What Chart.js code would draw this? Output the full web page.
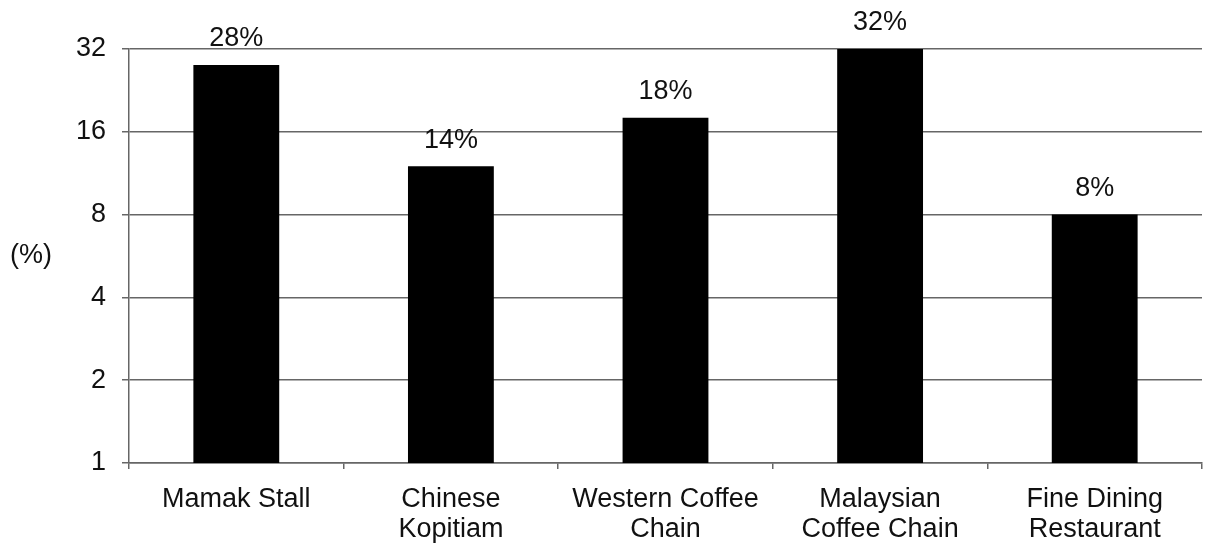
<!DOCTYPE html>
<html>
<head>
<meta charset="utf-8">
<script src="https://cdn.jsdelivr.net/npm/chart.js@4"></script>
<style>
  html, body { margin: 0; padding: 0; background: #fff; }
</style>
</head>
<body>
<canvas id="venueChart" width="1205" height="549"></canvas>
<script>
const categories = ['Mamak Stall', ['Chinese', 'Kopitiam'], ['Western Coffee', 'Chain'], ['Malaysian', 'Coffee Chain'], ['Fine Dining', 'Restaurant']];
const shares = [28, 12, 18, 32, 8];          // bar heights as drawn
const shareLabels = ['28%', '14%', '18%', '32%', '8%']; // printed labels
const yTicks = [1, 2, 4, 8, 16, 32];

const FONT = '"Liberation Sans", Arial, sans-serif';

// value labels above bars + the horizontal "(%)" axis title
const extras = {
    id: 'extras',
    afterDatasetsDraw(chart) {
        const ctx = chart.ctx;
        const meta = chart.getDatasetMeta(0);
        ctx.save();
        ctx.fillStyle = '#111';
        ctx.font = '27px ' + FONT;
        ctx.textAlign = 'center';
        ctx.textBaseline = 'middle';
        meta.data.forEach((bar, i) => {
            ctx.fillText(shareLabels[i], bar.x, bar.y - 26);
        });
        ctx.fillText('(%)', 31, 256);
        ctx.restore();
    }
};

const ctx = document.getElementById('venueChart').getContext('2d');
new Chart(ctx, {
    type: 'bar',
    data: {
        labels: categories,
        datasets: [{
            data: shares,
            backgroundColor: '#000',
            borderWidth: 0,
            barPercentage: 0.4,
            categoryPercentage: 1
        }]
    },
    options: {
        responsive: false,
        animation: false,
        layout: { padding: { top: 49, right: 3, left: 0, bottom: 0 } },
        plugins: { legend: { display: false }, tooltip: { enabled: false } },
        scales: {
            x: {
                afterFit: s => { s.height = 86; },
                grid: { offset: true, drawOnChartArea: false, drawTicks: true, tickLength: 6, color: '#666', lineWidth: 1.5 },
                border: { display: true, color: '#666', width: 1.5 },
                ticks: { color: '#111', font: { family: FONT, size: 27, lineHeight: 1.12 }, padding: 15, maxRotation: 0, autoSkip: false }
            },
            y: {
                type: 'logarithmic',
                min: 1,
                max: 32,
                afterFit: s => { s.width = 129; },
                afterBuildTicks: s => { s.ticks = yTicks.map(v => ({ value: v })); },
                grid: { color: '#666', lineWidth: 1.5, drawTicks: true, tickLength: 7 },
                border: { display: true, color: '#666', width: 1.5 },
                ticks: { color: '#111', font: { family: FONT, size: 27 }, padding: 16, callback: v => String(v) }
            }
        }
    },
    plugins: [extras]
});
</script>
</body>
</html>
